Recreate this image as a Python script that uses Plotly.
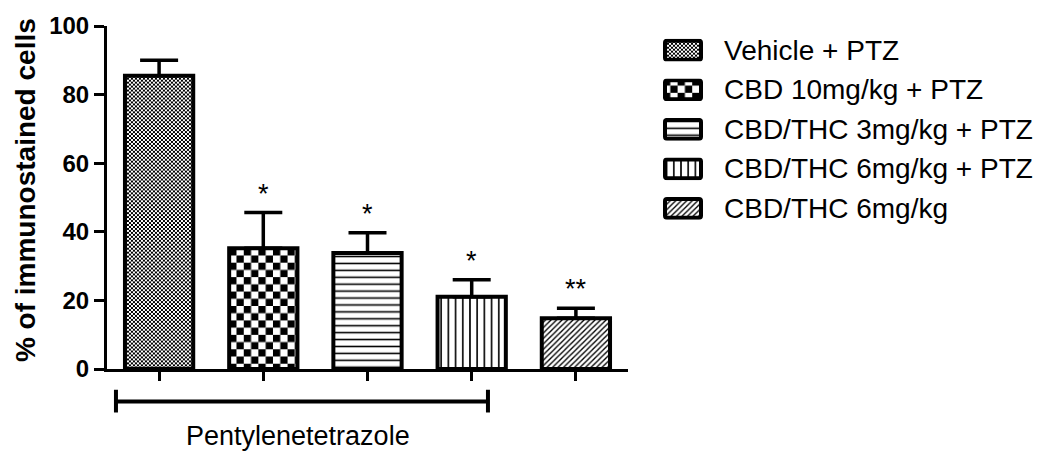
import base64
import plotly.graph_objects as go

# ---- data -------------------------------------------------------------
groups = [
    "Vehicle + PTZ",
    "CBD 10mg/kg + PTZ",
    "CBD/THC 3mg/kg + PTZ",
    "CBD/THC 6mg/kg + PTZ",
    "CBD/THC 6mg/kg",
]
mean_pct = [85.5, 35.2, 33.8, 21.1, 14.8]
sem_pct = [4.5, 10.4, 5.9, 4.9, 2.9]
signif = ["", "*", "*", "*", "**"]
y_ticks = [0, 20, 40, 60, 80, 100]
y_title = "% of immunostained cells"
group_label = "Pentylenetetrazole"

# ---- geometry ---------------------------------------------------------
W, H = 1043, 456
ML, MR, MT, MB = 107, 415, 22, 87
PW, PH = W - ML - MR, H - MT - MB
XR = [-0.5, len(groups) - 0.5]
YR = [0, 100]
BAR_W = 0.655
FONT = "Liberation Sans, Arial, sans-serif"

px_per_x = PW / (XR[1] - XR[0])
px_per_y = PH / (YR[1] - YR[0])


def svg_uri(body, w, h):
    svg = (
        f'<svg xmlns="http://www.w3.org/2000/svg" width="{w:.2f}" height="{h:.2f}" '
        f'viewBox="0 0 {w:.2f} {h:.2f}" preserveAspectRatio="none">{body}</svg>'
    )
    return "data:image/svg+xml;base64," + base64.b64encode(svg.encode()).decode()


def checker_defs(cell):
    c2 = 2 * cell
    return (
        f'<defs><pattern id="p" width="{c2}" height="{c2}" patternUnits="userSpaceOnUse">'
        f'<rect width="{c2}" height="{c2}" fill="white"/>'
        f'<rect width="{cell}" height="{cell}" fill="black"/>'
        f'<rect x="{cell}" y="{cell}" width="{cell}" height="{cell}" fill="black"/>'
        f"</pattern></defs>"
    )


def hline_defs(gap, lw):
    return (
        f'<defs><pattern id="p" width="{gap}" height="{gap}" patternUnits="userSpaceOnUse">'
        f'<rect width="{gap}" height="{gap}" fill="white"/>'
        f'<rect y="{(gap - lw) / 2}" width="{gap}" height="{lw}" fill="black"/>'
        f"</pattern></defs>"
    )


def vline_defs(gap, lw):
    return (
        f'<defs><pattern id="p" width="{gap}" height="{gap}" patternUnits="userSpaceOnUse">'
        f'<rect width="{gap}" height="{gap}" fill="white"/>'
        f'<rect x="{(gap - lw) / 2}" width="{lw}" height="{gap}" fill="black"/>'
        f"</pattern></defs>"
    )


def diag_defs(gap, lw):
    return (
        f'<defs><pattern id="p" width="{gap}" height="{gap}" patternUnits="userSpaceOnUse">'
        f'<rect width="{gap}" height="{gap}" fill="white"/>'
        f'<path d="M{-gap / 2},{gap / 2} L{gap / 2},{-gap / 2} M0,{gap} L{gap},0 '
        f'M{gap / 2},{gap * 1.5} L{gap * 1.5},{gap / 2}" stroke="black" stroke-width="{lw}"/>'
        f"</pattern></defs>"
    )


fills = [
    checker_defs(2),
    checker_defs(7.3),
    hline_defs(7, 1.6),
    vline_defs(7.2, 1.6),
    diag_defs(5.5, 1.3),
]

fig = go.Figure()

# bars: outline + upper error bar; the fill texture sits beneath as an image
fig.add_trace(
    go.Bar(
        x=list(range(len(groups))),
        y=mean_pct,
        width=BAR_W,
        marker=dict(color="rgba(0,0,0,0)", line=dict(color="black", width=4)),
        error_y=dict(
            type="data",
            array=sem_pct,
            arrayminus=[0] * len(groups),
            symmetric=False,
            color="black",
            thickness=3.5,
            width=19,
        ),
        showlegend=False,
        hoverinfo="skip",
    )
)

images = []
for i, (val, defs) in enumerate(zip(mean_pct, fills)):
    wpx = BAR_W * px_per_x
    hpx = val * px_per_y
    body = defs + f'<rect width="{wpx:.2f}" height="{hpx:.2f}" fill="url(#p)"/>'
    images.append(
        dict(
            source=svg_uri(body, wpx, hpx),
            xref="x", yref="y",
            x=i - BAR_W / 2, y=val,
            sizex=BAR_W, sizey=val,
            xanchor="left", yanchor="top",
            sizing="stretch", layer="below",
        )
    )

# legend: patterned swatches with labels
SW_W, SW_H = 40, 23
LEG_X = 663
LEG_TEXT_X = 722
LEG_Y0, LEG_DY = 46.5, 40


def px_to_paper_x(px):
    return (px - ML) / PW


def px_to_paper_y(py):
    return (H - MB - py) / PH


annotations = []
for k, (name, defs) in enumerate(zip(groups, fills)):
    cy = LEG_Y0 + k * LEG_DY
    body = (
        defs
        + f'<rect x="2" y="2" width="{SW_W - 4}" height="{SW_H - 4}" rx="2" '
        f'fill="url(#p)" stroke="black" stroke-width="4"/>'
    )
    images.append(
        dict(
            source=svg_uri(body, SW_W, SW_H),
            xref="paper", yref="paper",
            x=px_to_paper_x(LEG_X), y=px_to_paper_y(cy - SW_H / 2),
            sizex=SW_W / PW, sizey=SW_H / PH,
            xanchor="left", yanchor="top",
            sizing="stretch", layer="above",
        )
    )
    annotations.append(
        dict(
            text=name, xref="paper", yref="paper",
            x=px_to_paper_x(LEG_TEXT_X), y=px_to_paper_y(cy),
            xanchor="left", yanchor="middle", showarrow=False,
            font=dict(family=FONT, size=28, color="black"),
        )
    )

# significance marks above the error bars
for i, (val, err, mark) in enumerate(zip(mean_pct, sem_pct, signif)):
    if mark:
        annotations.append(
            dict(
                text=mark, x=i, y=val + err, xref="x", yref="y",
                xanchor="center", yanchor="bottom", yshift=2, showarrow=False,
                font=dict(family=FONT, size=27, color="black"),
            )
        )

# y-axis title
annotations.append(
    dict(
        text=f"<b>{y_title}</b>", xref="paper", yref="paper",
        x=px_to_paper_x(25), y=px_to_paper_y(188),
        xanchor="center", yanchor="middle", textangle=-90, showarrow=False,
        font=dict(family=FONT, size=28, color="black"),
    )
)

# group bracket under the PTZ-treated bars
br_x0, br_x1 = -0.414, 3.156
br_y = px_to_paper_y(402)
shapes = [
    dict(type="line", xref="x", yref="paper", x0=br_x0, x1=br_x1, y0=br_y, y1=br_y,
         line=dict(color="black", width=4)),
    dict(type="line", xref="x", yref="paper", x0=br_x0, x1=br_x0,
         y0=px_to_paper_y(390), y1=px_to_paper_y(413), line=dict(color="black", width=4)),
    dict(type="line", xref="x", yref="paper", x0=br_x1, x1=br_x1,
         y0=px_to_paper_y(390), y1=px_to_paper_y(413), line=dict(color="black", width=4)),
]
annotations.append(
    dict(
        text=group_label, xref="x", yref="paper",
        x=(br_x0 + br_x1) / 2 - 0.04, y=px_to_paper_y(437),
        xanchor="center", yanchor="middle", showarrow=False,
        font=dict(family=FONT, size=27, color="black"),
    )
)

fig.update_layout(
    width=W, height=H,
    margin=dict(l=ML, r=MR, t=MT, b=MB, pad=0),
    paper_bgcolor="white", plot_bgcolor="white",
    showlegend=False,
    images=images, annotations=annotations, shapes=shapes,
    xaxis=dict(
        range=XR, showgrid=False, zeroline=False,
        showline=True, linecolor="black", linewidth=3,
        tickmode="array", tickvals=list(range(len(groups))), showticklabels=False,
        ticks="outside", ticklen=9, tickwidth=3, tickcolor="black",
    ),
    yaxis=dict(
        range=YR, showgrid=False, zeroline=False,
        showline=True, linecolor="black", linewidth=3,
        tickmode="array", tickvals=y_ticks, ticktext=[f"<b>{t}</b>" for t in y_ticks],
        ticks="outside", ticklen=10, tickwidth=3, tickcolor="black",
        tickfont=dict(family=FONT, size=24, color="black"),
    ),
)

fig.write_html("out.html")
